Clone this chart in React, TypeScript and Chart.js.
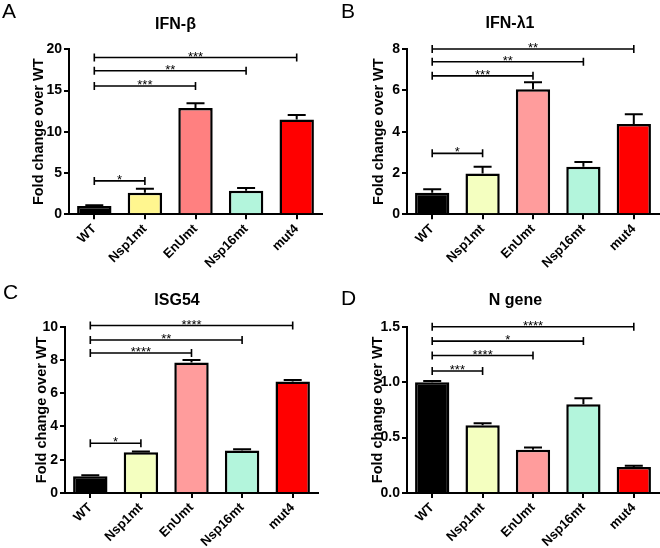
import React, { useEffect, useRef } from 'react';
import { Chart, registerables } from 'chart.js';

Chart.register(...registerables);

// ---------- data ----------
const categories = ['WT', 'Nsp1mt', 'EnUmt', 'Nsp16mt', 'mut4'];

const ifnbMeans = [1.0, 2.6, 12.9, 2.85, 11.5];
const ifnbErrors = [0.1, 0.5, 0.55, 0.35, 0.55];

const ifnl1Means = [1.04, 1.98, 6.05, 2.3, 4.37];
const ifnl1Errors = [0.17, 0.32, 0.34, 0.23, 0.47];

const isg54Means = [1.0, 2.45, 7.85, 2.55, 6.7];
const isg54Errors = [0.06, 0.04, 0.15, 0.08, 0.1];

const ngeneMeans = [1.0, 0.61, 0.39, 0.8, 0.235];
const ngeneErrors = [0.01, 0.02, 0.02, 0.055, 0.01];

type Bracket = { from: number; to: number; y: number; label: string };

const ifnbBrackets: Bracket[] = [
  { from: 0, to: 4, y: 19.0, label: '***' },
  { from: 0, to: 3, y: 17.4, label: '**' },
  { from: 0, to: 2, y: 15.55, label: '***' },
  { from: 0, to: 1, y: 4.05, label: '*' },
];
const ifnl1Brackets: Bracket[] = [
  { from: 0, to: 4, y: 8.0, label: '**' },
  { from: 0, to: 3, y: 7.38, label: '**' },
  { from: 0, to: 2, y: 6.7, label: '***' },
  { from: 0, to: 1, y: 2.95, label: '*' },
];
const isg54Brackets: Bracket[] = [
  { from: 0, to: 4, y: 10.07, label: '****' },
  { from: 0, to: 3, y: 9.2, label: '**' },
  { from: 0, to: 2, y: 8.42, label: '****' },
  { from: 0, to: 1, y: 2.99, label: '*' },
];
const ngeneBrackets: Bracket[] = [
  { from: 0, to: 4, y: 1.5, label: '****' },
  { from: 0, to: 3, y: 1.37, label: '*' },
  { from: 0, to: 2, y: 1.24, label: '****' },
  { from: 0, to: 1, y: 1.1, label: '***' },
];

// ---------- styles ----------
const FONT = "'Liberation Sans', Arial, Helvetica, sans-serif";
const colorsA = ['#000000', '#FFF68F', '#FF8080', '#B3F5DC', '#FF0000'];
const colorsBCD = ['#000000', '#F4FFC0', '#FF9C9C', '#B3F5DC', '#FF0000'];

const PW = 330;
const PH = 274;

interface PanelCfg {
  letter: string;
  title: string;
  means: number[];
  errors: number[];
  brackets: Bracket[];
  colors: string[];
  yMax: number;
  yStep: number;
  decimals: number;
  x: number;
  y: number;
  areaLeft: number;
  areaRight: number;
  areaTop: number;
  areaBottom: number;
  padLeft: number;
  yTitleCenter: number;
  titleCenterY: number;
  letterX: number;
  letterY: number;
}

const panels: PanelCfg[] = [
  {
    letter: 'A', title: 'IFN-β', means: ifnbMeans, errors: ifnbErrors, brackets: ifnbBrackets,
    colors: colorsA, yMax: 20, yStep: 5, decimals: 0, x: 0, y: 0,
    areaLeft: 69, areaRight: 322, areaTop: 49.3, areaBottom: 214.3, padLeft: 29,
    yTitleCenter: 39, titleCenterY: 25, letterX: 2, letterY: 18,
  },
  {
    letter: 'B', title: 'IFN-λ1', means: ifnl1Means, errors: ifnl1Errors, brackets: ifnl1Brackets,
    colors: colorsBCD, yMax: 8, yStep: 2, decimals: 0, x: 330, y: 0,
    areaLeft: 77, areaRight: 329, areaTop: 49, areaBottom: 214.3, padLeft: 31,
    yTitleCenter: 49, titleCenterY: 23.7, letterX: 11, letterY: 18,
  },
  {
    letter: 'C', title: 'ISG54', means: isg54Means, errors: isg54Errors, brackets: isg54Brackets,
    colors: colorsBCD, yMax: 10, yStep: 2, decimals: 0, x: 0, y: 274,
    areaLeft: 65, areaRight: 318, areaTop: 52.7, areaBottom: 219, padLeft: 36,
    yTitleCenter: 41.7, titleCenterY: 26.7, letterX: 3, letterY: 25,
  },
  {
    letter: 'D', title: 'N gene', means: ngeneMeans, errors: ngeneErrors, brackets: ngeneBrackets,
    colors: colorsBCD, yMax: 1.5, yStep: 0.5, decimals: 1, x: 330, y: 274,
    areaLeft: 77, areaRight: 329, areaTop: 52.7, areaBottom: 219, padLeft: 42,
    yTitleCenter: 48.3, titleCenterY: 26.7, letterX: 11, letterY: 31,
  },
];

function Panel({ cfg }: { cfg: PanelCfg }) {
  const ref = useRef<HTMLCanvasElement | null>(null);

  useEffect(() => {
    if (!ref.current) return;
    const titleSize = 16;
    const titleLH = titleSize * 1.2;
    const tTop = cfg.titleCenterY - titleLH / 2;
    const tBottom = cfg.areaTop - tTop - titleLH;
    const yTitleSize = 14.5;
    const yTitleLH = yTitleSize * 1.2;
    const yTitlePad = cfg.yTitleCenter - cfg.padLeft - yTitleLH / 2;

    const overlay = {
      id: 'overlay',
      afterDatasetsDraw(chart: any) {
        const ctx = chart.ctx as CanvasRenderingContext2D;
        const ys = chart.scales.y;
        const meta = chart.getDatasetMeta(0);
        ctx.save();
        ctx.strokeStyle = '#000';
        ctx.fillStyle = '#000';
        // error bars (upper only)
        ctx.lineWidth = 2;
        cfg.means.forEach((m, i) => {
          const bx = meta.data[i].x;
          const yTop = ys.getPixelForValue(m);
          const yErr = ys.getPixelForValue(m + cfg.errors[i]);
          ctx.beginPath();
          ctx.moveTo(bx, yTop);
          ctx.lineTo(bx, yErr);
          ctx.moveTo(bx - 9, yErr);
          ctx.lineTo(bx + 9, yErr);
          ctx.stroke();
        });
        // significance brackets
        ctx.lineWidth = 1.6;
        ctx.font = `13px ${FONT}`;
        ctx.textAlign = 'center';
        ctx.textBaseline = 'alphabetic';
        cfg.brackets.forEach((b) => {
          const x1 = meta.data[b.from].x;
          const x2 = meta.data[b.to].x;
          const yy = ys.getPixelForValue(b.y);
          ctx.beginPath();
          ctx.moveTo(x1, yy);
          ctx.lineTo(x2, yy);
          ctx.moveTo(x1, yy - 4);
          ctx.lineTo(x1, yy + 4);
          ctx.moveTo(x2, yy - 4);
          ctx.lineTo(x2, yy + 4);
          ctx.stroke();
          ctx.fillText(b.label, (x1 + x2) / 2, yy + 3);
        });
        // panel letter
        ctx.textAlign = 'left';
        ctx.font = `21px ${FONT}`;
        ctx.fillText(cfg.letter, cfg.letterX, cfg.letterY);
        ctx.restore();
      },
    };

    const chart = new Chart(ref.current, {
      type: 'bar',
      data: {
        labels: categories,
        datasets: [
          {
            data: cfg.means,
            backgroundColor: cfg.colors,
            borderColor: '#000',
            borderWidth: 2.5,
            barPercentage: 0.68,
            categoryPercentage: 1,
          },
        ],
      },
      options: {
        responsive: false,
        animation: false,
        devicePixelRatio: 1,
        layout: { padding: { left: cfg.padLeft, right: PW - cfg.areaRight, top: 0, bottom: 0 } },
        plugins: {
          legend: { display: false },
          tooltip: { enabled: false },
          title: {
            display: true,
            text: cfg.title,
            color: '#000',
            font: { family: FONT, size: titleSize, weight: 'bold', lineHeight: 1.2 },
            padding: { top: tTop, bottom: tBottom },
          },
        },
        scales: {
          x: {
            grid: {
              display: true,
              drawOnChartArea: false,
              drawTicks: true,
              tickLength: 5,
              color: '#000',
              lineWidth: 2,
              offset: false,
            },
            border: { display: true, color: '#000', width: 2 },
            ticks: {
              color: '#000',
              font: { family: FONT, size: 13, weight: 'bold' },
              maxRotation: 45,
              minRotation: 45,
              autoSkip: false,
              padding: 2,
            },
            afterFit: (s: any) => {
              s.height = PH - cfg.areaBottom;
            },
          },
          y: {
            min: 0,
            max: cfg.yMax,
            grid: {
              display: true,
              drawOnChartArea: false,
              drawTicks: true,
              tickLength: 5,
              color: '#000',
              lineWidth: 2,
            },
            border: { display: true, color: '#000', width: 2 },
            ticks: {
              stepSize: cfg.yStep,
              color: '#000',
              font: { family: FONT, size: 14, weight: 'bold' },
              padding: 2,
              callback: (v: any) => Number(v).toFixed(cfg.decimals),
            },
            title: {
              display: true,
              text: 'Fold change over WT',
              color: '#000',
              font: { family: FONT, size: yTitleSize, weight: 'bold', lineHeight: 1.2 },
              padding: { top: yTitlePad, bottom: 0 },
            },
            afterFit: (s: any) => {
              s.width = cfg.areaLeft - cfg.padLeft;
            },
          },
        },
      } as any,
      plugins: [overlay],
    });
    return () => chart.destroy();
  }, [cfg]);

  return (
    <canvas
      ref={ref}
      width={PW}
      height={PH}
      style={{ position: 'absolute', left: cfg.x, top: cfg.y, width: PW, height: PH, display: 'block' }}
    />
  );
}

export default function App() {
  return (
    <div
      style={{
        position: 'absolute',
        left: 0,
        top: 0,
        width: 660,
        height: 548,
        background: '#ffffff',
        overflow: 'hidden',
      }}
    >
      {panels.map((p) => (
        <Panel key={p.letter} cfg={p} />
      ))}
    </div>
  );
}
